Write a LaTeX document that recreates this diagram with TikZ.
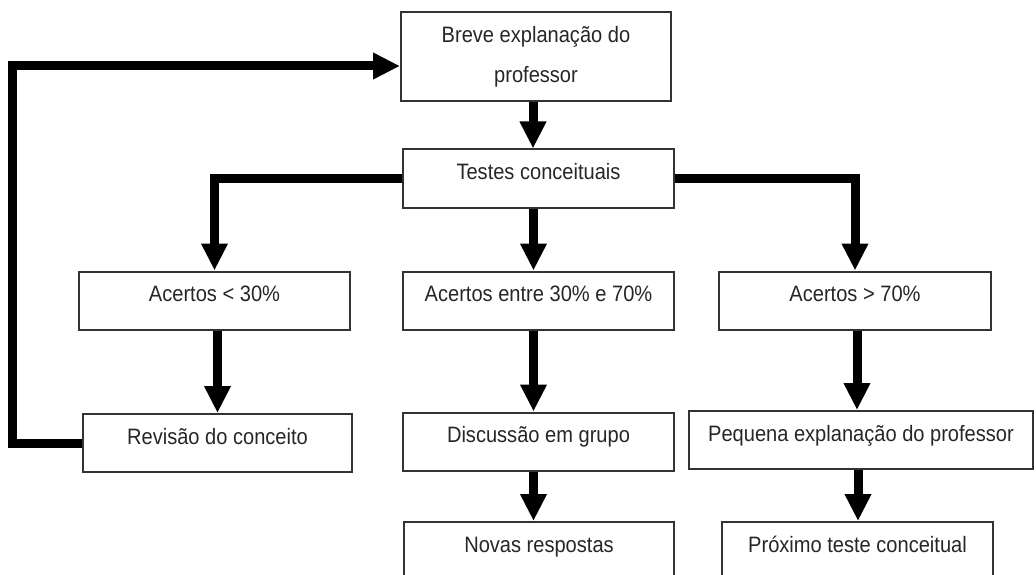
\documentclass[tikz,border=0pt]{standalone}
\usepackage{fontspec}
\setmainfont{Liberation Sans}[FakeStretch=0.9]
\usetikzlibrary{arrows.meta}

\tikzset{
  caixa/.style={draw=black!80, line width=2, inner sep=0pt, text=black!85, align=center,
    font=\fontsize{22.3pt}{40pt}\selectfont},
  linha/.style={text height=30pt, text depth=28pt},
  seta/.style={line width=9, -{Triangle[length=27pt,width=25pt]}}
}

\begin{document}
\begin{tikzpicture}[x=1pt,y=1pt,yscale=-1,xscale=1]
\clip (0,0) rectangle (1036,575);

% Text Node
\node[caixa, minimum width=270pt, minimum height=89pt] (expl) at (536,56.5) {Breve explanação do\\professor};
% Text Node
\node[caixa, linha, minimum width=271pt] (testes) at (538.5,178.5) {Testes conceituais};
% Text Node
\node[caixa, linha, minimum width=271pt] (acBaixo) at (214.5,300.5) {Acertos < 30\%};
% Text Node
\node[caixa, linha, minimum width=271pt] (acMedio) at (538.5,300.5) {Acertos entre 30\% e 70\%};
% Text Node
\node[caixa, linha, minimum width=272pt] (acAlto) at (855,300.5) {Acertos > 70\%};
% Text Node
\node[caixa, linha, minimum width=269pt] (revisao) at (217.5,443) {Revisão do conceito};
% Text Node
\node[caixa, linha, minimum width=271pt] (discussao) at (538.5,441.5) {Discussão em grupo};
% Text Node
\node[caixa, linha, minimum width=344pt] (pequena) at (861,440) {Pequena explanação do professor};
% Text Node
\node[caixa, linha, minimum width=270pt] (novas) at (539,551) {Novas respostas};
% Text Node
\node[caixa, linha, minimum width=271pt] (proximo) at (857.5,551) {Próximo teste conceitual};

%Straight Lines
\coordinate (volta) at (12,66);
\draw[seta] (revisao.west) -| (volta) -- (volta -| expl.west);
%Straight Lines
\draw[seta] ([xshift=-3pt]expl.south) -- ([xshift=-3pt]expl.south |- testes.north);
%Straight Lines
\draw[seta] (testes.west) -| (acBaixo.north);
\draw[seta] ([xshift=-5pt]testes.south) -- ([xshift=-5pt]acMedio.north);
\draw[seta] (testes.east) -| (acAlto.north);
%Straight Lines
\draw[seta] ([xshift=3pt]acBaixo.south) -- ([xshift=3pt]acBaixo.south |- revisao.north);
\draw[seta] ([xshift=-5pt]acMedio.south) -- ([xshift=-5pt]acMedio.south |- discussao.north);
\draw[seta] ([xshift=2pt]acAlto.south) -- ([xshift=2pt]acAlto.south |- pequena.north);
%Straight Lines
\draw[seta] ([xshift=-5pt]discussao.south) -- ([xshift=-5pt]discussao.south |- novas.north);
\draw[seta] ([xshift=-3pt]pequena.south) -- ([xshift=-3pt]pequena.south |- proximo.north);

\end{tikzpicture}
\end{document}
